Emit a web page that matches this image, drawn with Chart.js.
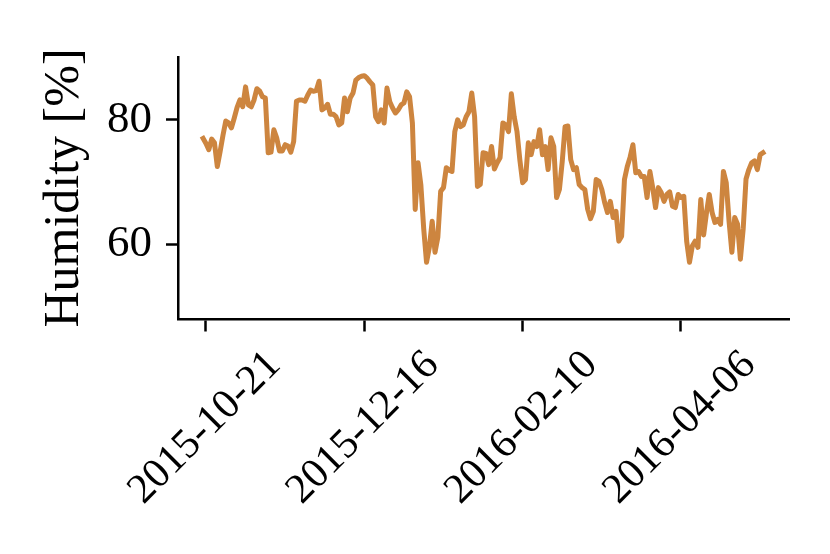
<!DOCTYPE html>
<html>
<head>
<meta charset="utf-8">
<script src="https://cdn.jsdelivr.net/npm/chart.js@4.4.1/dist/chart.umd.min.js"></script>
<style>
  html, body { margin: 0; padding: 0; background: #ffffff; }
  #c { display: block; }
</style>
</head>
<body>
<canvas id="c" width="830" height="554"></canvas>
<script>
// ---- data (daily readings, starting at startDate) ----
const startDate = '2015-10-20';
const humidity = [
  77.0, 76.2, 75.2, 76.9, 76.3, 72.5, 74.9, 77.5, 79.8, 79.5,
  78.7, 80.3, 82.0, 83.2, 82.1, 85.3, 82.4, 82.1, 83.2, 85.0,
  84.6, 83.7, 83.5, 74.7, 74.8, 78.4, 77.1, 75.0, 75.0, 76.0,
  75.8, 74.8, 76.5, 83.0, 83.2, 83.2, 83.0, 84.0, 84.8, 84.6,
  84.7, 86.2, 81.6, 81.9, 82.5, 80.9, 80.9, 80.5, 79.2, 79.5,
  83.5, 81.3, 83.5, 84.3, 86.4, 86.8, 87.0, 87.1, 86.7, 86.1,
  85.6, 80.5, 79.7, 81.6, 79.5, 85.1, 82.9, 81.9, 81.1, 81.6,
  82.4, 82.7, 84.5, 83.7, 79.5, 65.6, 73.1, 69.5, 62.5, 57.1,
  59.5, 63.7, 58.7, 61.1, 68.5, 69.1, 72.3, 71.9, 71.7, 78.1,
  80.0, 78.9, 79.2, 80.5, 81.3, 84.3, 80.5, 69.3, 69.6, 74.7,
  74.6, 72.8, 75.7, 72.1, 73.1, 73.9, 79.5, 79.2, 78.1, 84.2,
  80.5, 78.1, 73.6, 69.9, 70.4, 76.3, 74.4, 76.5, 75.7, 78.4,
  74.4, 75.7, 72.0, 77.1, 75.7, 67.5, 68.8, 73.3, 78.9, 79.0,
  73.6, 72.0, 72.3, 69.6, 69.1, 68.8, 65.6, 64.1, 65.3, 70.4,
  70.1, 68.8, 66.7, 65.1, 66.9, 64.3, 65.3, 60.5, 61.3, 70.4,
  72.5, 74.0, 76.0, 71.5, 71.7, 70.9, 70.9, 67.5, 71.7, 69.1,
  65.9, 69.1, 68.3, 66.9, 68.0, 68.4, 66.1, 65.9, 68.0, 67.5,
  67.7, 60.5, 57.1, 59.7, 60.5, 59.5, 67.2, 61.5, 65.0, 68.0,
  65.1, 63.5, 64.0, 63.2, 71.7, 69.9, 63.7, 58.7, 64.3, 63.2,
  57.6, 62.5, 70.5, 72.0, 73.1, 73.4, 72.0, 74.4, 74.7
];
const xTickLabels = ['2015-10-21', '2015-12-16', '2016-02-10', '2016-04-06'];
const yTickValues = [60, 80];
const yTitle = 'Humidity [%]';

// ---- helpers ----
const DAY = 86400000;
const t0 = Date.parse(startDate + 'T00:00:00Z');
const dayOf = s => Math.round((Date.parse(s + 'T00:00:00Z') - t0) / DAY);
const xTickDays = xTickLabels.map(dayOf);
const points = humidity.map((v, i) => ({ x: i, y: v }));

const FONT = '"Liberation Serif", "Times New Roman", serif';

const labelPlugin = {
  id: 'labels',
  afterDraw(chart) {
    const ctx = chart.ctx;
    const xs = chart.scales.x;
    ctx.save();
    ctx.fillStyle = '#000';
    ctx.font = '42px ' + FONT;
    ctx.textAlign = 'center';
    ctx.textBaseline = 'middle';
    xTickDays.forEach((d, i) => {
      const px = xs.getPixelForValue(d);
      ctx.save();
      ctx.translate(px - 1, 428);
      ctx.rotate(-Math.PI / 4);
      ctx.fillText(xTickLabels[i], 0, 0);
      ctx.restore();
    });
    // y title
    ctx.font = '50px ' + FONT;
    ctx.textBaseline = 'alphabetic';
    ctx.translate(78, 188);
    ctx.rotate(-Math.PI / 2);
    ctx.fillText(yTitle, 0, 0);
    ctx.restore();
  }
};

new Chart(document.getElementById('c'), {
  type: 'line',
  data: {
    datasets: [{
      data: points,
      borderColor: '#CD853F',
      borderWidth: 5,
      pointRadius: 0,
      tension: 0,
      fill: false,
      borderJoinStyle: 'round',
      borderCapStyle: 'square'
    }]
  },
  options: {
    responsive: false,
    animation: false,
    events: [],
    layout: { padding: { left: 0, right: 41, top: 57, bottom: 0 } },
    plugins: { legend: { display: false }, tooltip: { enabled: false } },
    scales: {
      x: {
        type: 'linear',
        min: -8.9,
        max: 207.2,
        afterBuildTicks: s => { s.ticks = xTickDays.map(v => ({ value: v })); },
        afterFit: s => { s.height = 234.5; },
        ticks: { display: false },
        grid: { drawOnChartArea: false, drawTicks: true, tickLength: 12, tickWidth: 2.5, tickColor: '#000' },
        border: { display: true, color: '#000', width: 2.5 }
      },
      y: {
        min: 47.9,
        max: 90.1,
        afterBuildTicks: s => { s.ticks = yTickValues.map(v => ({ value: v })); },
        afterFit: s => { s.width = 178; },
        ticks: { color: '#000', font: { family: FONT, size: 45 }, padding: 14 },
        grid: { drawOnChartArea: false, drawTicks: true, tickLength: 12, tickWidth: 2.5, tickColor: '#000' },
        border: { display: true, color: '#000', width: 2.5 }
      }
    }
  },
  plugins: [labelPlugin]
});
</script>
</body>
</html>
